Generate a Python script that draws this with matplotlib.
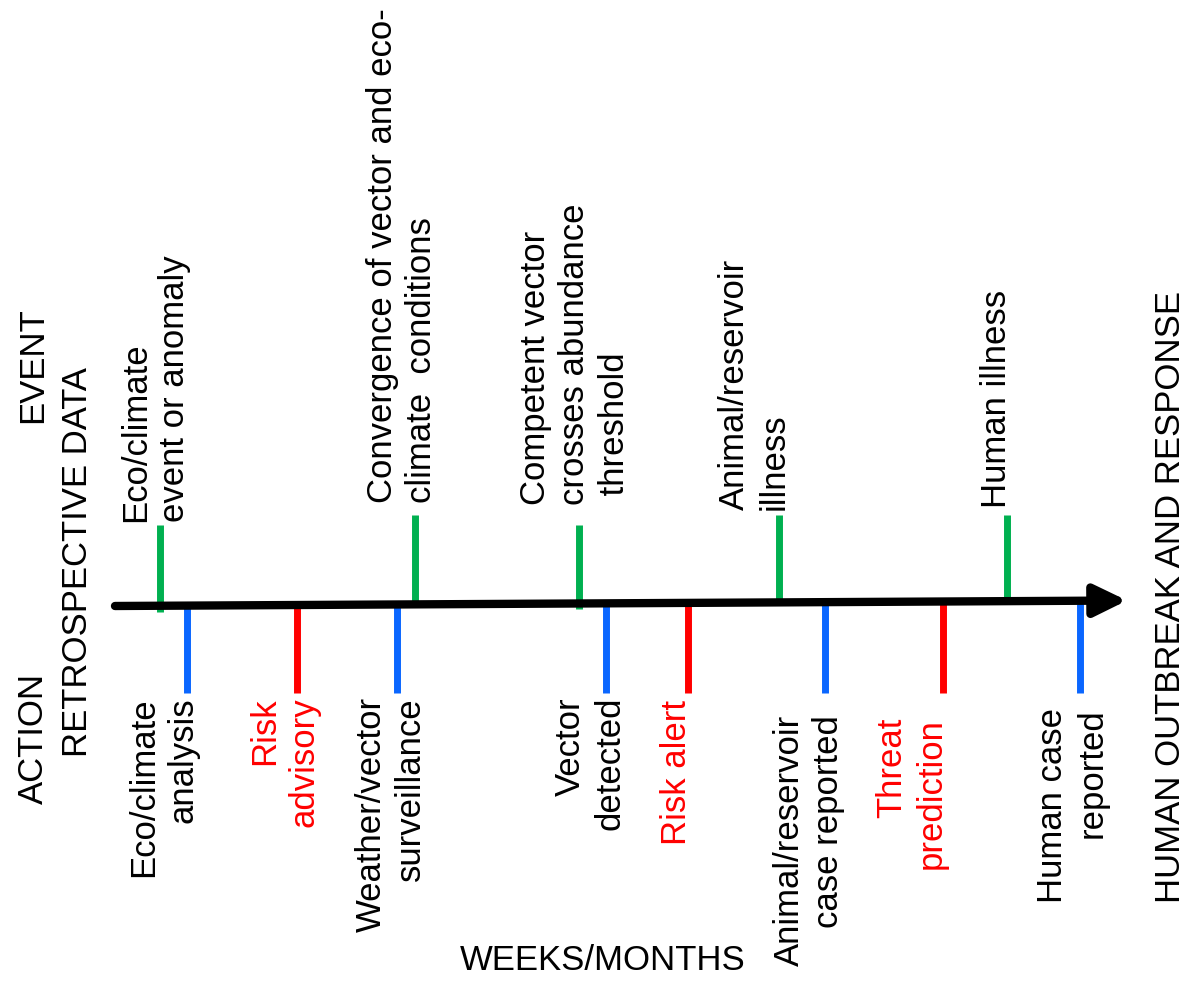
import matplotlib
matplotlib.use("Agg")
import matplotlib.pyplot as plt
from matplotlib.patches import FancyArrowPatch

plt.rcParams['font.family'] = ['Liberation Sans', 'DejaVu Sans']

# ---- data (timeline positions) ----
event_labels = ["Eco/climate\nevent or anomaly",
                "Convergence of vector and eco-\nclimate  conditions",
                "Competent vector\ncrosses abundance\n threshold",
                "Animal/reservoir\nillness",
                "Human illness"]
event_times = [160, 415, 579, 779, 1007]

action_labels = ["Eco/climate\nanalysis",
                 "Risk\nadvisory",
                 "Weather/vector\nsurveillance",
                 "Vector\ndetected",
                 "Risk alert",
                 "Animal/reservoir\ncase reported",
                 "Threat\nprediction",
                 "Human case\nreported"]
action_times = [187, 297, 397, 606, 688, 825, 943, 1080]
action_kind = ["surveillance", "advisory", "surveillance", "surveillance",
               "advisory", "surveillance", "advisory", "surveillance"]

# ---- layout / style ----
W, H = 1200, 992
fig = plt.figure(figsize=(W / 100, H / 100), dpi=100)
ax = fig.add_axes([0, 0, 1, 1])
ax.set_xlim(0, W)
ax.set_ylim(H, 0)
ax.axis('off')

GREEN = '#00b050'
BLUE = '#0a66ff'
RED = '#ff0000'
kind_color = {"surveillance": BLUE, "advisory": RED}
FS = 25
LS = 1.25

# timeline axis (slightly sloped, as in the reference)
x0, x1 = 115, 1127
y0, y1 = 606, 600.5
def axis_y(x):
    return y0 + (y1 - y0) * (x - x0) / (x1 - x0)

arrow = FancyArrowPatch((x0, y0), (x1, y1), arrowstyle='-|>,head_length=19.5,head_width=9.5',
                        mutation_scale=1, lw=6, color='black', shrinkA=0, shrinkB=0,
                        zorder=3)
ax.add_patch(arrow)

# event ticks (above)
ev_top = [525, 515, 525, 515, 515]
ev_bot_extra = [6, 0, 6, 0, 0]
ev_label_dx = [-5, -13, -4, -25, -10]
ev_label_y = [522, 503, 505, 510, 508]
for t, lab, top, ex, dx, ly in zip(event_times, event_labels, ev_top, ev_bot_extra,
                                   ev_label_dx, ev_label_y):
    ax.plot([t, t], [top, axis_y(t) + ex], color=GREEN, lw=5, solid_capstyle='butt', zorder=2)
    ax.text(t + dx, ly, lab, rotation=90, ha='center', va='bottom',
            multialignment='left', fontsize=FS, linespacing=LS)

# action ticks (below)
act_label_dx = [-24, -13, -6, -16, -11, -16, -32, -8]
act_label_y = [697, 697, 697, 697, 700, 715, 718, 708]
for t, lab, k, dx, ly in zip(action_times, action_labels, action_kind,
                             act_label_dx, act_label_y):
    c = kind_color[k]
    ax.plot([t, t], [axis_y(t), 693], color=c, lw=5, solid_capstyle='butt', zorder=2)
    ax.text(t + dx, ly, lab, rotation=90, ha='center', va='top',
            multialignment='right', fontsize=FS, linespacing=LS,
            color=('black' if k == 'surveillance' else RED))

# side / axis titles
ax.text(33, 365, "EVENT", rotation=90, ha='center', va='center', fontsize=FS)
ax.text(78, 562, "RETROSPECTIVE DATA", rotation=90, ha='center', va='center', fontsize=FS)
ax.text(33, 738, "ACTION", rotation=90, ha='center', va='center', fontsize=FS)
ax.text(1170, 597, "HUMAN OUTBREAK AND RESPONSE", rotation=90, ha='center', va='center', fontsize=FS)
ax.text(603, 960, "WEEKS/MONTHS", ha='center', va='center', fontsize=FS)

fig.savefig('out.png', dpi=100)
